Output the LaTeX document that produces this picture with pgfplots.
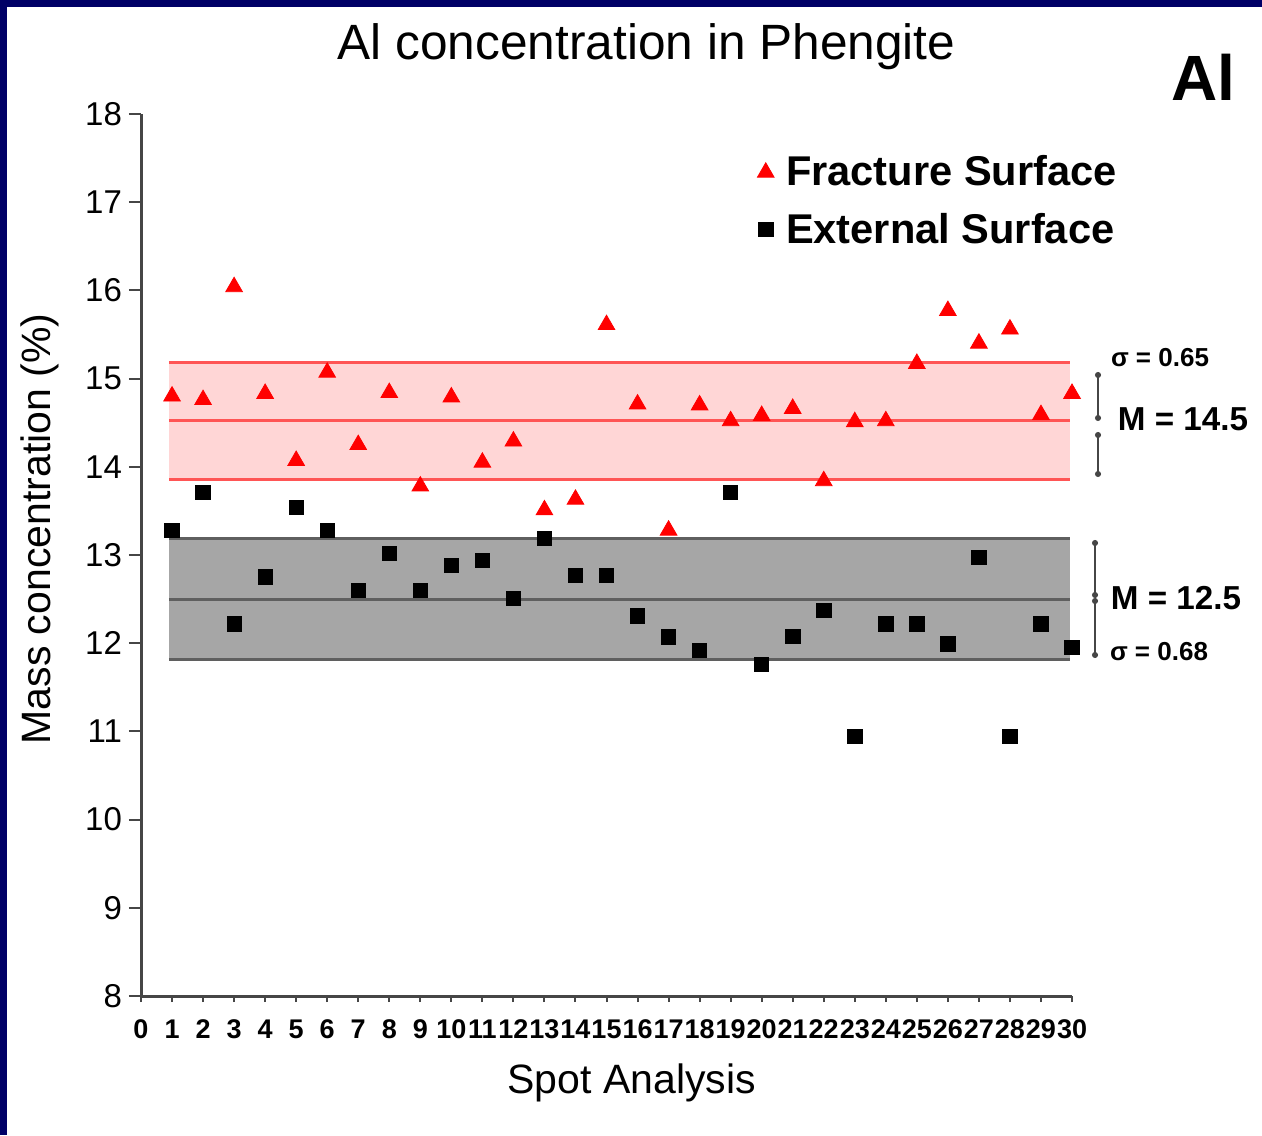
\documentclass[border=0pt]{standalone}
\usepackage{pgfplots}
\pgfplotsset{compat=1.18}
\usepackage{fontspec}
\setmainfont{Liberation Sans}
\usetikzlibrary{arrows.meta}
\definecolor{navyb}{RGB}{0,0,102}
\definecolor{axgray}{RGB}{70,70,70}
\definecolor{pinkfill}{RGB}{255,214,214}
\definecolor{redline}{RGB}{255,85,85}
\definecolor{grayfill}{RGB}{166,166,166}
\definecolor{grayline}{RGB}{95,95,95}
\begin{document}
\begin{tikzpicture}[x=1pt,y=1pt]
\fill[navyb] (0,0) rectangle (631,567.5);
\fill[white] (3.5,0) rectangle (631,564);
\begin{axis}[
  at={(70.5pt,69.5pt)}, anchor=south west,
  scale only axis, width=465.5pt, height=441pt,
  xmin=0, xmax=30, ymin=8, ymax=18,
  xtick={0,...,30}, ytick={8,...,18},
  axis lines=left,
  axis line style={-, draw=axgray, line width=1.5pt},
  tick align=outside,
  major tick length=6pt,
  xtick style={draw=axgray, line width=1pt, /pgfplots/major tick length=3pt},
  ytick style={draw=axgray, line width=1pt},
  /pgf/number format/assume math mode=true,
  x tick label style={font=\bfseries\fontsize{13.5}{16}\selectfont, inner xsep=0pt, yshift=-2.5pt},
  y tick label style={font=\fontsize{16.5}{19}\selectfont},
  clip=false,
  xlabel={Spot Analysis},
  ylabel={Mass concentration (\%)},
  xlabel style={font=\fontsize{20.5}{24}\selectfont, at={(axis description cs:0.527,0)}, anchor=center, yshift=-43.5pt},
  ylabel style={font=\fontsize{20.5}{24}\selectfont, at={(axis description cs:-0.1085,0.5295)}, anchor=center},
  legend style={at={(rel axis cs:0.6617,0.9014)}, anchor=west, draw=none, fill=none,
    inner sep=0pt, column sep=4pt, row sep=8pt, font=\bfseries\fontsize{20.8}{25}\selectfont},
  legend cell align=left,
  legend image code/.code={\draw[mark repeat=2,mark phase=2] plot coordinates {(0cm,0cm) (0.15cm,0cm) (0.3cm,0cm)};},
]
% red band
\addplot[fill=pinkfill, draw=none, forget plot] coordinates {(0.9,13.86) (29.95,13.86) (29.95,15.18) (0.9,15.18)} -- cycle;
\addplot[redline, line width=1.5pt, forget plot] coordinates {(0.9,15.18) (29.95,15.18)};
\addplot[redline, line width=1.5pt, forget plot] coordinates {(0.9,14.52) (29.95,14.52)};
\addplot[redline, line width=1.5pt, forget plot] coordinates {(0.9,13.86) (29.95,13.86)};
% gray band
\addplot[fill=grayfill, draw=none, forget plot] coordinates {(0.9,11.81) (29.95,11.81) (29.95,13.19) (0.9,13.19)} -- cycle;
\addplot[grayline, line width=1.5pt, forget plot] coordinates {(0.9,13.19) (29.95,13.19)};
\addplot[grayline, line width=1.5pt, forget plot] coordinates {(0.9,12.50) (29.95,12.50)};
\addplot[grayline, line width=1.5pt, forget plot] coordinates {(0.9,11.81) (29.95,11.81)};
% Fracture surface
\addplot[only marks, mark=triangle*, mark size=4.8pt, color=red, mark options={fill=red, draw=red}] coordinates {
(1,14.80) (2,14.76) (3,16.04) (4,14.83) (5,14.07) (6,15.07) (7,14.25) (8,14.84) (9,13.78) (10,14.79)
(11,14.05) (12,14.29) (13,13.51) (14,13.63) (15,15.61) (16,14.71) (17,13.28) (18,14.70) (19,14.52) (20,14.58)
(21,14.66) (22,13.84) (23,14.51) (24,14.52) (25,15.17) (26,15.77) (27,15.40) (28,15.56) (29,14.59) (30,14.83)};
\addlegendentry{Fracture Surface}
% External surface
\addplot[only marks, mark=square*, mark size=3.6pt, color=black] coordinates {
(1,13.28) (2,13.71) (3,12.22) (4,12.75) (5,13.54) (6,13.28) (7,12.60) (8,13.02) (9,12.60) (10,12.88)
(11,12.94) (12,12.51) (13,13.19) (14,12.77) (15,12.77) (16,12.31) (17,12.07) (18,11.92) (19,13.71) (20,11.76)
(21,12.08) (22,12.37) (23,10.94) (24,12.22) (25,12.22) (26,11.99) (27,12.97) (28,10.94) (29,12.22) (30,11.95)};
\addlegendentry{External Surface}
\end{axis}
% title and annotations
\node[font=\fontsize{24.8}{29}\selectfont] at (323.25,544) {Al concentration in Phengite};
\node[font=\bfseries\fontsize{32}{38}\selectfont] at (601.5,529) {Al};
\node[font=\bfseries\fontsize{13}{15}\selectfont] at (580,388.5) {σ = 0.65};
\node[font=\bfseries\fontsize{16.6}{19}\selectfont] at (591.5,358) {M = 14.5};
\node[font=\bfseries\fontsize{16.6}{19}\selectfont] at (588,268.5) {M = 12.5};
\node[font=\bfseries\fontsize{13}{15}\selectfont] at (579.5,241.5) {σ = 0.68};
\draw[axgray, line width=0.7pt, {Circle[length=3pt]}-{Circle[length=3pt]}] (549,381.5) -- (549,357);
\draw[axgray, line width=0.7pt, {Circle[length=3pt]}-{Circle[length=3pt]}] (549,351.5) -- (549,329);
\draw[axgray, line width=0.7pt, {Circle[length=3pt]}-{Circle[length=3pt]}] (547.5,297.5) -- (547.5,268.5);
\draw[axgray, line width=0.7pt, {Circle[length=3pt]}-{Circle[length=3pt]}] (547.5,268.5) -- (547.5,238.5);
\end{tikzpicture}
\end{document}
